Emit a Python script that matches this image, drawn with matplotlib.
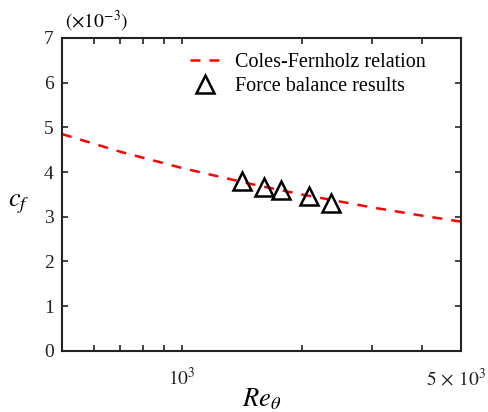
import matplotlib
matplotlib.use("Agg")
import matplotlib.pyplot as plt
from matplotlib.ticker import FixedLocator, NullFormatter
from matplotlib.transforms import ScaledTranslation

plt.rcParams['font.family'] = ['Liberation Serif', 'DejaVu Serif']
plt.rcParams['mathtext.fontset'] = 'stix'

# Coles-Fernholz relation
re_curve = [500, 700, 1000, 1500, 2000, 3000, 4000, 5000]
cf_curve = [4.85, 4.454, 4.089, 3.725, 3.495, 3.206, 3.022, 2.89]

# Force balance results
re_fb = [1416, 1607, 1768, 2085, 2366]
cf_fb = [3.81, 3.665, 3.60, 3.46, 3.31]

major_x = [1000, 5000]
major_x_labels = [r'$10^3$', r'$5\,\times\,10^3$']
minor_x = [600, 700, 800, 900, 2000, 3000, 4000]

fig = plt.figure(figsize=(4.89, 4.12), dpi=100)
ax = fig.add_axes([62/489, 1-350.7/412, (461-62)/489, (350.7-38)/412])

ax.plot(re_curve, cf_curve, color='#ff0000', ls=(0, (4, 3.6)), lw=1.8,
        label='Coles-Fernholz relation')
ax.plot(re_fb, cf_fb, ls='none', marker='^', ms=12.5, mfc='none', mec='black',
        mew=1.8, label='Force balance results')

ax.set_xscale('log')
ax.set_xlim(500, 5000)
ax.set_ylim(0, 7)
ax.xaxis.set_major_locator(FixedLocator(major_x))
ax.set_xticklabels(major_x_labels)
ax.xaxis.set_minor_locator(FixedLocator(minor_x))
ax.xaxis.set_minor_formatter(NullFormatter())
ax.set_yticks(range(0, 8))

ax.tick_params(which='both', direction='in', top=True, right=True,
               length=4, width=1.2, labelsize=14, colors='#222222')
ax.tick_params(axis='x', which='major', pad=12)
ax.tick_params(axis='y', pad=6)
for s in ax.spines.values():
    s.set_linewidth(1.5)
    s.set_color('#222222')

# nudge the last x tick label left so it stays inside the figure
last = ax.get_xticklabels()[-1]
last.set_transform(last.get_transform() + ScaledTranslation(-5/100, 0, fig.dpi_scale_trans))

ax.set_xlabel(r'$Re_\theta$', fontsize=19, labelpad=-2)
ax.set_ylabel(r'$c_f$', fontsize=19, rotation=0, va='center', ha='center')
ax.yaxis.set_label_coords((19 - 62) / 399, (350.7 - 204) / 312.7)
fig.text(65/489, 1-21/412, r'$(\times10^{-3})$', fontsize=14, va='center', ha='left')

ax.legend(loc='upper left', frameon=False, fontsize=14.5, handlelength=1.45,
          handletextpad=0.8, borderaxespad=0, borderpad=0.4, labelspacing=0.25,
          bbox_to_anchor=(182/489, 1-45/412), bbox_transform=fig.transFigure)

fig.savefig('out.png', dpi=100)
